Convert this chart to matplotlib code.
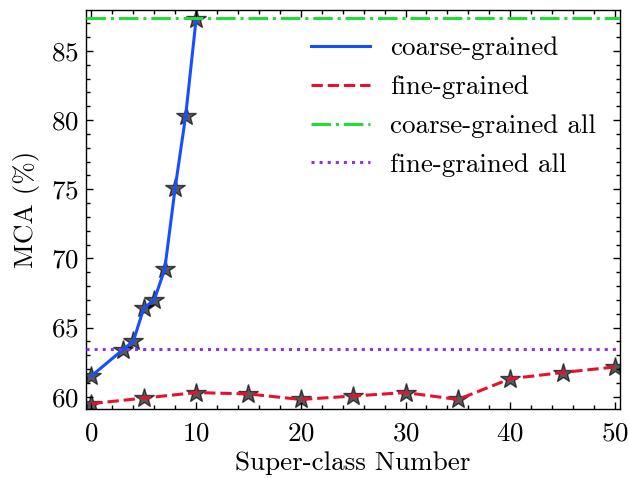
import matplotlib
matplotlib.use("Agg")
import matplotlib.pyplot as plt
from matplotlib.ticker import MultipleLocator

# data
coarse_x = [0, 3, 4, 5, 6, 7, 8, 9, 10]
coarse_y = [61.5, 63.4, 64.0, 66.4, 67.0, 69.2, 75.1, 80.3, 87.3]
fine_x = [0, 5, 10, 15, 20, 25, 30, 35, 40, 45, 50]
fine_y = [59.5, 59.9, 60.3, 60.2, 59.8, 60.05, 60.3, 59.8, 61.3, 61.75, 62.15]
coarse_all = 87.4
fine_all = 63.45

plt.rcParams['font.family'] = 'serif'
plt.rcParams['font.serif'] = ['cmr10']
plt.rcParams['mathtext.fontset'] = 'cm'
plt.rcParams['axes.formatter.use_mathtext'] = True
plt.rcParams['font.size'] = 19.5

fig = plt.figure(figsize=(6.29, 4.78), dpi=100)
ax = fig.add_axes([0.137, 0.144, 0.849, 0.835])

# stars sit under the lines
ax.plot(coarse_x, coarse_y, '*', color='k', alpha=0.65, markersize=15, zorder=2)
ax.plot(fine_x, fine_y, '*', color='k', alpha=0.65, markersize=15, zorder=2)

ax.plot(coarse_x, coarse_y, '-', color='#1450ff', lw=2.2, label='coarse-grained', zorder=3)
ax.plot(fine_x, fine_y, '--', color='#e8112d', lw=2.2, label='fine-grained', zorder=3)
ax.axhline(coarse_all, ls='-.', color='#22dd33', lw=2.2, label='coarse-grained all', zorder=3)
ax.axhline(fine_all, ls=':', color='#8a33ee', lw=2.2, label='fine-grained all', zorder=3)

ax.set_xlim(-0.5, 50.5)
ax.set_ylim(59.1, 87.95)
ax.xaxis.set_major_locator(MultipleLocator(10))
ax.xaxis.set_minor_locator(MultipleLocator(2))
ax.yaxis.set_major_locator(MultipleLocator(5))
ax.yaxis.set_minor_locator(MultipleLocator(1))
ax.tick_params(which='both', direction='in', top=True, right=True)
ax.tick_params(which='major', length=5, width=1, pad=5)
ax.tick_params(axis='x', which='major', pad=9)
ax.tick_params(which='minor', length=3, width=1)
for s in ax.spines.values():
    s.set_linewidth(1)

ax.set_xlabel('Super-class Number', labelpad=4)
ax.set_ylabel('MCA (%)', labelpad=8)

ax.legend(loc='upper right', frameon=False, handlelength=2.15, labelspacing=0.55,
          handletextpad=0.75, bbox_to_anchor=(1.0, 0.995))

fig.savefig('out.png', dpi=100)
